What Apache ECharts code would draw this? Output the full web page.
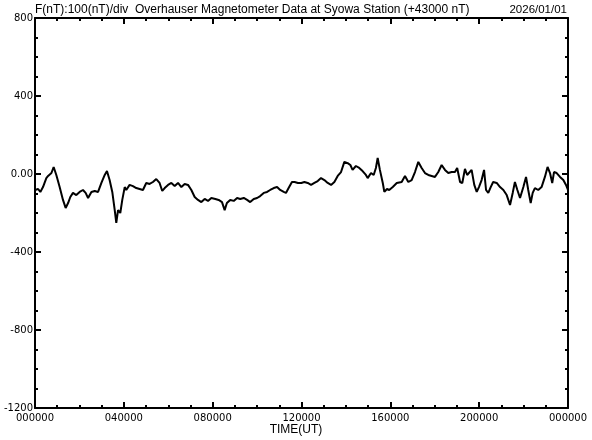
<!DOCTYPE html>
<html>
<head>
<meta charset="utf-8">
<script src="https://cdn.jsdelivr.net/npm/echarts@6/dist/echarts.min.js"></script>
<style>
html,body{margin:0;padding:0;background:#fff;}
#c{width:592px;height:440px;}
</style>
</head>
<body>
<div id="c"></div>
<script>
// Time in hours UT
const hours = [
0.00,0.14,0.24,0.36,0.51,0.59,0.66,0.74,0.84,0.96,1.11,1.26,1.38,1.49,1.59,1.71,1.86,2.01,2.16,2.28,2.39,2.54,2.69,2.84,2.99,3.14,3.24,3.36,3.48,3.59,3.66,3.74,3.84,3.93,4.04,
4.11,4.26,4.41,4.56,4.71,4.86,5.01,5.16,5.31,5.46,5.61,5.73,5.84,5.99,6.14,6.29,6.44,6.59,6.74,6.89,7.04,7.19,7.34,7.49,7.64,7.79,7.94,
8.12,8.27,8.42,8.54,8.64,8.79,8.95,9.10,9.24,9.40,9.55,9.69,9.85,10.00,10.14,10.30,10.45,10.59,10.75,10.90,11.04,11.20,11.30,11.42,11.57,11.69,11.84,11.99,
12.13,12.28,12.43,12.58,12.73,12.88,13.03,13.18,13.33,13.48,13.63,13.78,13.93,14.08,14.20,14.30,14.45,14.60,14.75,14.90,14.98,15.13,15.25,15.35,15.43,15.53,15.66,15.73,15.85,15.95,16.11,
16.29,16.51,16.66,16.81,16.96,17.11,17.26,17.41,17.56,17.71,17.86,18.01,18.16,18.31,18.46,18.61,18.76,18.91,19.01,19.14,19.24,19.36,19.46,19.55,19.66,19.78,19.89,19.99,20.11,20.22,20.31,20.41,20.52,20.63,20.79,20.94,21.09,21.24,21.39,21.51,21.61,21.72,21.84,21.99,22.11,22.21,22.32,22.41,22.51,22.66,22.81,22.96,23.08,23.19,23.29,23.37,23.49,23.64,23.79,23.91,24.00
];
// F deviation from 43000 nT
const values = [
-82,-77,-92,-67,-21,-10,-15,5,36,-5,-67,-133,-174,-149,-118,-97,-108,-92,-82,-97,-123,-92,-87,-92,-46,-5,15,-31,-92,-185,-251,-185,-200,-133,-67,
-82,-56,-62,-72,-77,-82,-46,-51,-41,-26,-46,-87,-72,-56,-46,-62,-46,-67,-51,-56,-82,-118,-133,-144,-128,-138,-123,
-128,-133,-144,-185,-149,-133,-138,-123,-128,-123,-133,-144,-128,-123,-113,-97,-92,-82,-72,-67,-82,-92,-97,-72,-41,-41,-46,-46,
-41,-46,-56,-46,-36,-21,-31,-46,-56,-41,-10,10,62,56,46,21,41,31,15,-5,-21,5,-5,31,82,21,-46,-92,-77,-82,-67,
-46,-41,-10,-41,-31,10,62,31,5,-5,-10,-15,10,46,21,5,10,10,31,-41,-46,26,-5,-15,21,-56,-92,-67,-31,21,-82,-97,-67,-41,-46,-67,-82,-108,-159,-97,-41,-82,-123,-67,-15,-82,-149,-97,-72,-82,-67,-15,36,5,-46,10,5,-15,-31,-56,-82
];
const xTickLabels = ['000000','040000','080000','120000','160000','200000','000000'];
const yTickLabels = {'800':'800','400':'400','0':'0.00','-400':'-400','-800':'-800','-1200':'-1200'};
const titleText = 'F(nT):100(nT)/div  Overhauser Magnetometer Data at Syowa Station (+43000 nT)';
const dateText = '2026/01/01';
const xName = 'TIME(UT)';

const data = hours.map((h, i) => [h, values[i]]);
const FONT = 'Liberation Sans';
const lineBlack = {color: '#000', width: 2};

const chart = echarts.init(document.getElementById('c'), null, {renderer: 'canvas'});
const xBase = {
  type: 'value', min: 0, max: 24, interval: 4,
  axisLine: {show: true, onZero: false, lineStyle: lineBlack},
  axisTick: {show: true, inside: true, length: 6, lineStyle: {color: '#000', width: 2}},
  minorTick: {show: true, splitNumber: 4, length: 3, lineStyle: {color: '#000', width: 2}},
  splitLine: {show: false}, minorSplitLine: {show: false}
};
const yBase = {
  type: 'value', min: -1200, max: 800, interval: 400,
  axisLine: {show: true, onZero: false, lineStyle: lineBlack},
  axisTick: {show: true, inside: true, length: 6, lineStyle: {color: '#000', width: 2}},
  minorTick: {show: true, splitNumber: 4, length: 3, lineStyle: {color: '#000', width: 2}},
  splitLine: {show: false}, minorSplitLine: {show: false}
};
chart.setOption({
  animation: false,
  backgroundColor: '#fff',
  grid: {left: 35, right: 24, top: 18, bottom: 32, containLabel: false},
  xAxis: [
    Object.assign({}, xBase, {position: 'bottom',
      axisLabel: {show: true, margin: 5, color: '#000', fontFamily: 'DejaVu Sans', fontSize: 10,
        formatter: v => xTickLabels[Math.round(v / 4)]}}),
    Object.assign({}, xBase, {position: 'top', axisLabel: {show: false}})
  ],
  yAxis: [
    Object.assign({}, yBase, {position: 'left',
      axisLabel: {show: true, margin: 2, color: '#000', fontFamily: 'DejaVu Sans', fontSize: 10,
        formatter: v => yTickLabels[String(v)]}}),
    Object.assign({}, yBase, {position: 'right', axisLabel: {show: false}})
  ],
  graphic: [
    {type: 'text', left: 35, top: 4, style: {text: titleText, fill: '#000', font: '12px "' + FONT + '"'}},
    {type: 'text', right: 25, top: 4, style: {text: dateText, fill: '#000', font: '11.5px "' + FONT + '"'}},
    {type: 'text', left: 'center', top: 424, style: {text: xName, fill: '#000', font: '12px "' + FONT + '"'}}
  ],
  series: [{
    type: 'line', data: data, xAxisIndex: 0, yAxisIndex: 0,
    showSymbol: false, symbol: 'none',
    lineStyle: {color: '#000', width: 2}
  }]
});
</script>
</body>
</html>
